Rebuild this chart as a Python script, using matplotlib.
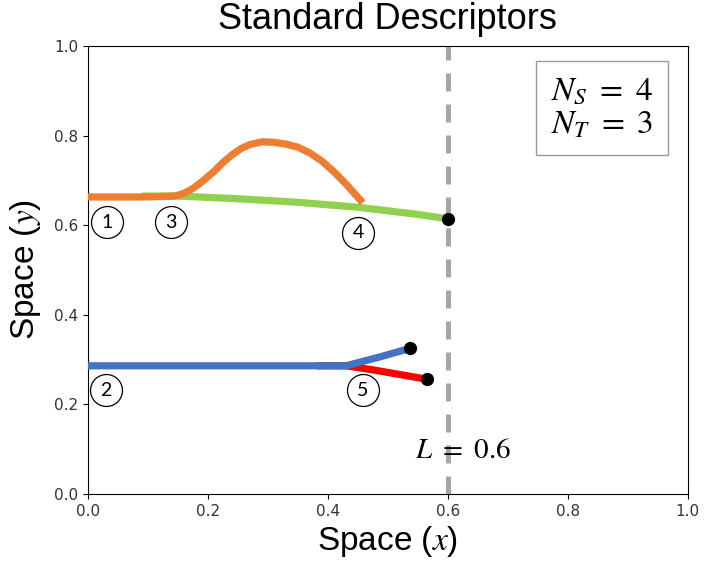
import matplotlib
matplotlib.use('Agg')
import matplotlib.pyplot as plt

plt.rcParams['font.family'] = ['Liberation Sans', 'DejaVu Sans']
plt.rcParams['mathtext.fontset'] = 'stix'

# trajectories
orange_x = [0.0, 0.10, 0.145, 0.16, 0.175, 0.19, 0.21, 0.225, 0.24, 0.255, 0.27, 0.29, 0.31, 0.33,
            0.35, 0.37, 0.39, 0.41, 0.43, 0.458]
orange_y = [0.663, 0.663, 0.665, 0.671, 0.682, 0.697, 0.720, 0.740, 0.757, 0.771, 0.780, 0.786, 0.785,
            0.781, 0.774, 0.761, 0.743, 0.719, 0.692, 0.650]
green_x = [0.09, 0.15, 0.25, 0.35, 0.45, 0.55, 0.60]
green_y = [0.665, 0.665, 0.659, 0.651, 0.640, 0.624, 0.614]
blue_x = [0.0, 0.43, 0.487, 0.537]
blue_y = [0.286, 0.286, 0.306, 0.325]
red_x = [0.382, 0.43, 0.475, 0.565]
red_y = [0.286, 0.286, 0.277, 0.256]

end_x = [0.60, 0.537, 0.565]
end_y = [0.614, 0.325, 0.256]

labels = ['1', '2', '3', '4', '5']
label_x = [0.032, 0.030, 0.138, 0.450, 0.458]
label_y = [0.607, 0.232, 0.607, 0.583, 0.232]

L = 0.6
n_s = 4
n_t = 3

fig = plt.figure(figsize=(7.04, 5.75), dpi=100)
ax = fig.add_axes([0.125, 0.141, 0.852, 0.779])

ax.axvline(L, color='#a6a6a6', lw=3.6, dashes=(3.6, 2.6), zorder=1)

style = dict(lw=5.2, solid_capstyle='butt', solid_joinstyle='round')
ax.plot(green_x, green_y, color='#92d050', zorder=2, **style)
ax.plot(orange_x, orange_y, color='#ed7d31', zorder=3, **style)
ax.plot(red_x, red_y, color='#ff0000', zorder=2, **style)
ax.plot(blue_x, blue_y, color='#4472c4', zorder=3, **style)
ax.plot(end_x, end_y, 'o', color='black', ms=8.5, zorder=5)

ax.plot(label_x, label_y, 'o', ms=23, mfc='white', mec='black', mew=0.9,
        zorder=6, clip_on=False)
for t, x, y in zip(labels, label_x, label_y):
    ax.text(x, y, t, ha='center', va='center', fontsize=14,
            family=['Lato', 'DejaVu Sans'], zorder=7)

ax.text(0.625, 0.098, r'$L\ =\ %.1f$' % L, ha='center', va='center', fontsize=21)

ax.text(0.857, 0.862, '$N_S\\ =\\ %d$\n$N_T\\ =\\ %d$' % (n_s, n_t), ha='center', va='center',
        fontsize=24, linespacing=1.1, transform=ax.transAxes,
        bbox=dict(boxstyle='square,pad=0.45', fc='white', ec='#999999', lw=1))

ax.set_xlim(0, 1)
ax.set_ylim(0, 1)
ax.set_xticks([0, 0.2, 0.4, 0.6, 0.8, 1.0])
ax.set_yticks([0, 0.2, 0.4, 0.6, 0.8, 1.0])
ax.tick_params(labelsize=11, labelcolor='#333333', labelfontfamily='DejaVu Sans')
ax.set_title('Standard Descriptors', fontsize=26, pad=12)
ax.set_xlabel('Space ($x$)', fontsize=24)
ax.set_ylabel('Space ($y$)', fontsize=24, labelpad=8)

fig.savefig('out.png', dpi=100)
